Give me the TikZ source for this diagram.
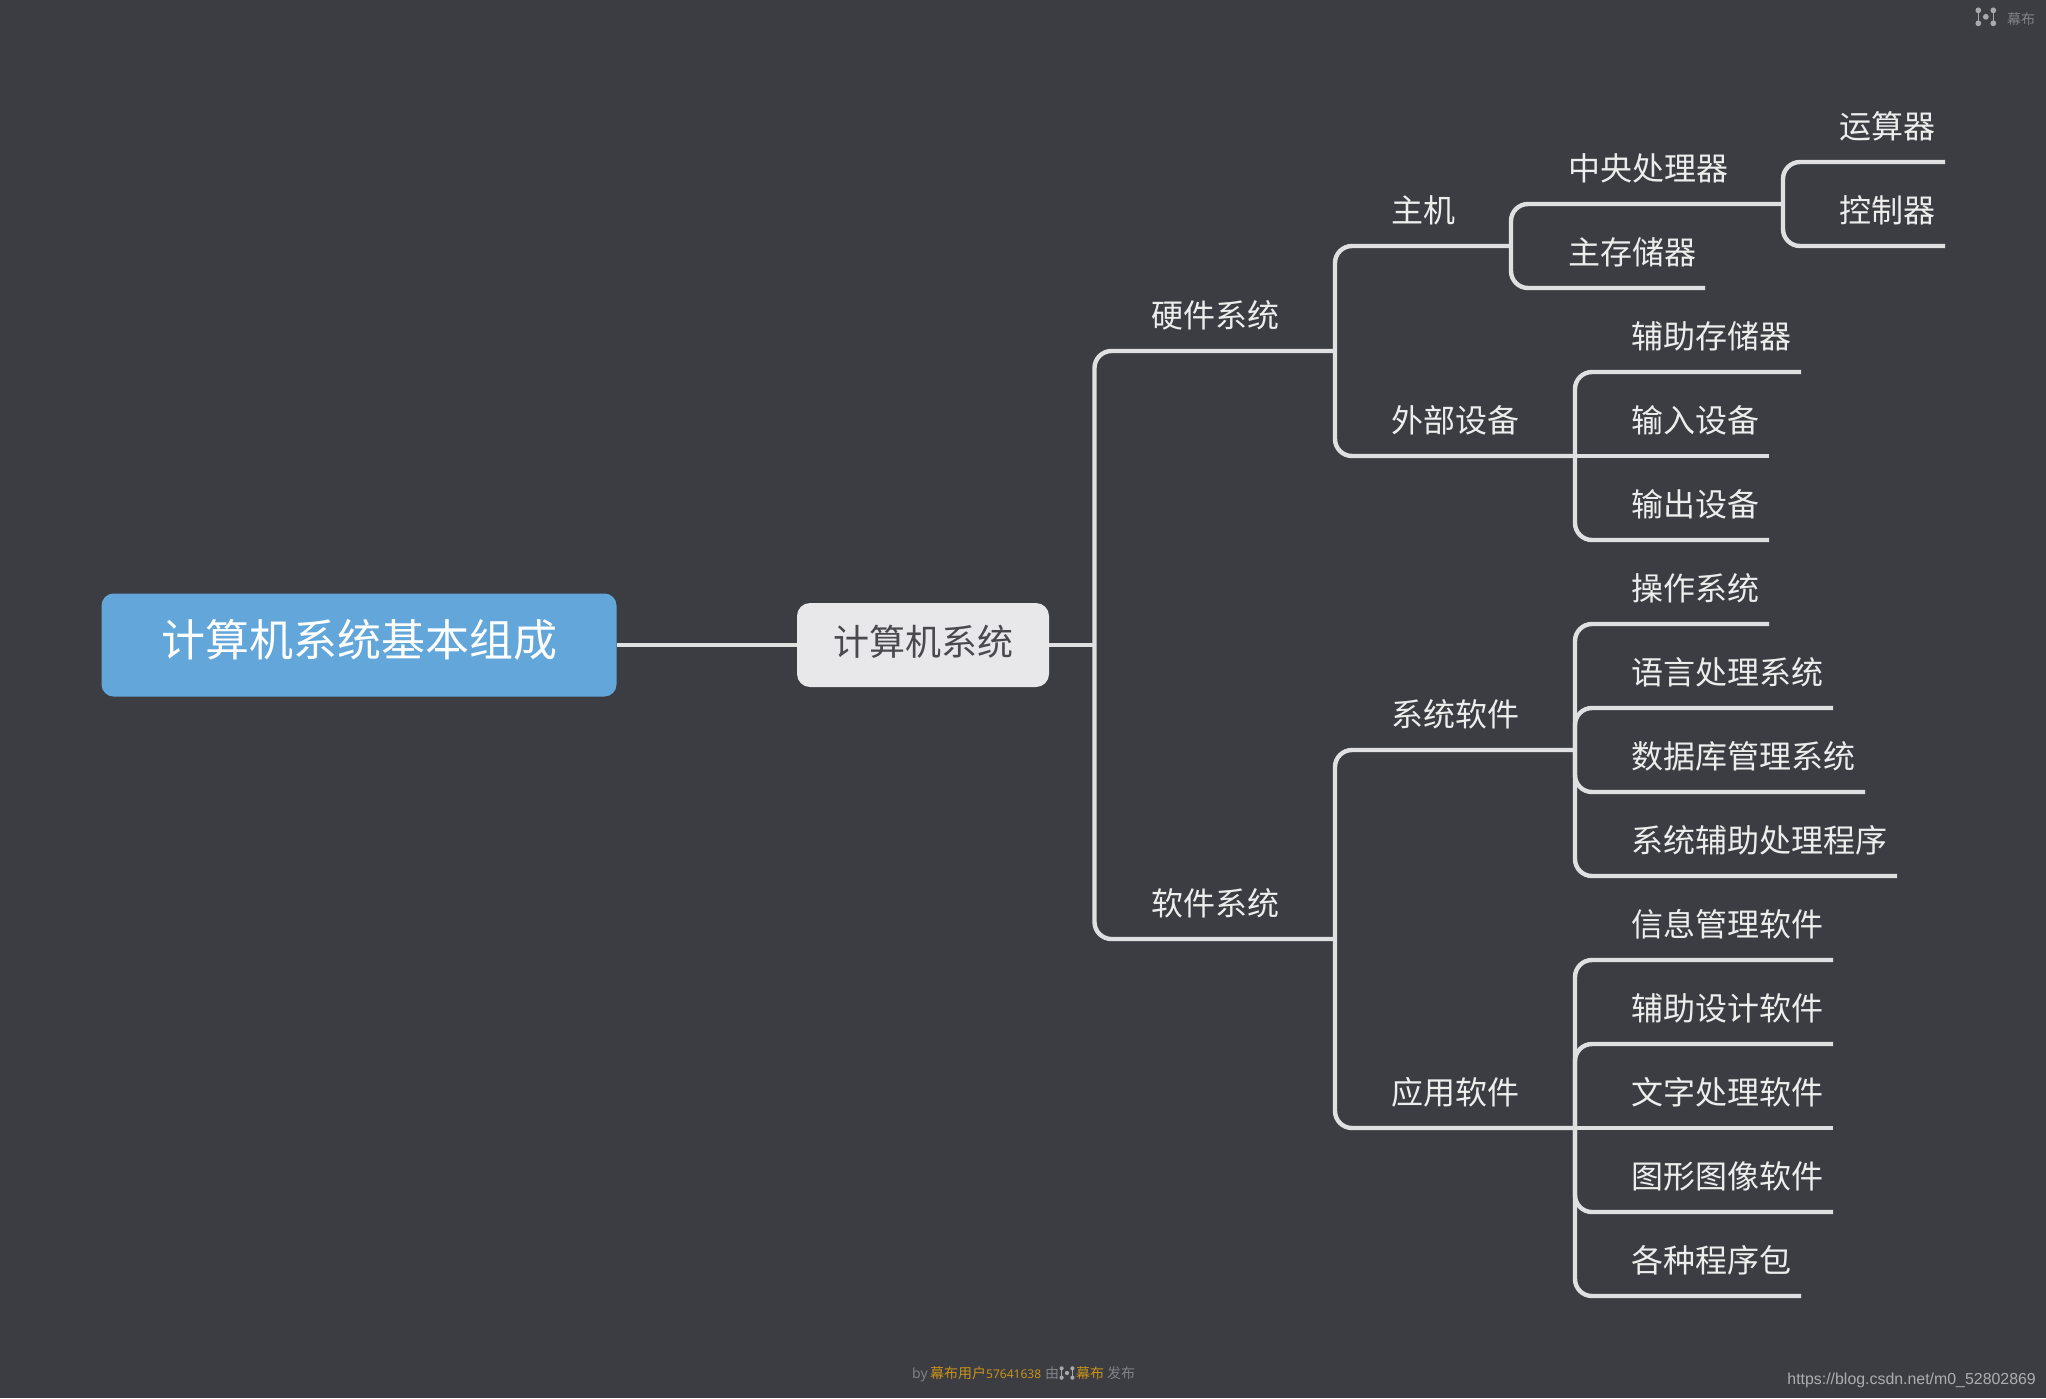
\documentclass[tikz,border=0pt]{standalone}
\usepackage{fontspec}
\setmainfont{Noto Sans CJK SC}
\newfontfamily\urlfont{Liberation Sans}
\newfontfamily\latinfont{Noto Sans}
\definecolor{bgc}{HTML}{3C3D43}
\definecolor{linec}{HTML}{E0E0E2}
\definecolor{rootc}{HTML}{63A6D9}
\definecolor{subc}{HTML}{E8E8EA}
\definecolor{subt}{HTML}{4A4A4E}
\definecolor{labelc}{HTML}{EDEDED}
\definecolor{footg}{HTML}{808286}
\definecolor{footo}{HTML}{C8921A}
\definecolor{logoc}{HTML}{A8A9AB}
\definecolor{urlc}{HTML}{ACADAE}
\newcommand{\fs}[1]{\fontsize{#1}{#1}\selectfont}
\newcommand{\mulogo}[3]{% x, y, scale
  \begin{scope}[shift={(#1,#2)},x=#3pt,y=#3pt]
    \draw[logoc,line width=#3*1.6pt] (-7.5,-6.5) -- (-7.5,6.5) (7.5,-6.5) -- (7.5,6.5);
    \fill[logoc] (-7.5,-6.5) circle (2.9) (-7.5,6.5) circle (2.9) (7.5,-6.5) circle (2.9) (7.5,6.5) circle (2.9) (0,0) circle (2.9);
  \end{scope}}
\tikzset{
  x=1pt,y=-1pt,
  link/.style={draw=linec,line width=4.4pt,rounded corners=17pt},
  leaf/.style={anchor=west,inner sep=0pt,xshift=-1pt,text=labelc,font=\fs{32},text height=28pt,text depth=4pt},
  rootbox/.style={fill=rootc,text=white,rounded corners=12pt,minimum width=515pt,minimum height=103pt,inner sep=0pt,font=\fs{44},text height=39pt,text depth=17pt},
  subbox/.style={fill=subc,text=subt,rounded corners=13pt,minimum width=252pt,minimum height=84pt,inner sep=0pt,font=\fs{36},text height=32pt,text depth=12pt},
  foot/.style={anchor=west,inner sep=0pt,text=footg,font=\fs{14},text height=12pt,text depth=2pt},
  footo/.style={foot,text=footo}
}
\begin{document}
\begin{tikzpicture}
\useasboundingbox (0,0) rectangle (2046,1398);
\fill[bgc] (0,0) rectangle (2046,1398);
% hubs
\coordinate (h0) at (1094.5,645);
\coordinate (h1) at (1335,351);
\coordinate (h2) at (1335,939);
\coordinate (h3) at (1511,246);
\coordinate (h4) at (1575,456);
\coordinate (h5) at (1783,204);
\coordinate (h6) at (1575,750);
\coordinate (h7) at (1575,1128);
% free ends
\coordinate (e1) at (1945,162);
\coordinate (e2) at (1945,246);
\coordinate (e3) at (1705,288);
\coordinate (e4) at (1801,372);
\coordinate (e5) at (1769,456);
\coordinate (e6) at (1769,540);
\coordinate (e7) at (1769,624);
\coordinate (e8) at (1833,708);
\coordinate (e9) at (1865,792);
\coordinate (e10) at (1897,876);
\coordinate (e11) at (1833,960);
\coordinate (e12) at (1833,1044);
\coordinate (e13) at (1833,1128);
\coordinate (e14) at (1833,1212);
\coordinate (e15) at (1801,1296);
% connectors
\foreach \a/\b in {h0/h1,h0/h2,h1/h3,h1/h4,h3/h5,h3/e3,h5/e1,h5/e2,h4/e4,h4/e6,h2/h6,h2/h7,h6/e7,h6/e8,h6/e9,h6/e10,h7/e11,h7/e12,h7/e14,h7/e15}
  \draw[link] (\a) |- (\b);
\draw[link] (h4) -- (e5);
\draw[link] (h7) -- (e13);
% boxes
\node[rootbox] (root) at (359,645) {计算机系统基本组成};
\node[subbox] (sys) at (923,645) {计算机系统};
\draw[link] (root.east) -- (sys.west);
\draw[link] (sys.east) -- (h0);
% labels
\node[leaf] (n1) at (1152,315) {硬件系统};
\node[leaf] (n2) at (1152,903) {软件系统};
\node[leaf] (n3) at (1392,210) {主机};
\node[leaf] (n4) at (1392,420) {外部设备};
\node[leaf] (n5) at (1392,714) {系统软件};
\node[leaf] (n6) at (1392,1092) {应用软件};
\node[leaf] (n7) at (1569,168) {中央处理器};
\node[leaf] (n8) at (1569,252) {主存储器};
\node[leaf] (n9) at (1840,126) {运算器};
\node[leaf] (n10) at (1840,210) {控制器};
\node[leaf] (n11) at (1632,336) {辅助存储器};
\node[leaf] (n12) at (1632,420) {输入设备};
\node[leaf] (n13) at (1632,504) {输出设备};
\node[leaf] (n14) at (1632,588) {操作系统};
\node[leaf] (n15) at (1632,672) {语言处理系统};
\node[leaf] (n16) at (1632,756) {数据库管理系统};
\node[leaf] (n17) at (1632,840) {系统辅助处理程序};
\node[leaf] (n18) at (1632,924) {信息管理软件};
\node[leaf] (n19) at (1632,1008) {辅助设计软件};
\node[leaf] (n20) at (1632,1092) {文字处理软件};
\node[leaf] (n21) at (1632,1176) {图形图像软件};
\node[leaf] (n22) at (1632,1260) {各种程序包};
% top right mark
\mulogo{1985.8}{16.8}{1}
\node[foot] (mark) at (2007,19) {幕布};
% footer
\node[foot] (f1) at (912,1373) {\latinfont by};
\node[footo] (f2) at (930,1373) {幕布用户\latinfont\fs{12}57641638};
\node[foot] (f3) at (1045,1373) {由};
\mulogo{1067}{1373}{0.72}
\node[footo] (f4) at (1076,1373) {幕布};
\node[foot] (f5) at (1107,1373) {发布};
\node[anchor=east,inner sep=0pt,text=urlc,font=\urlfont\fs{15.9}] (url) at (2036,1380) {https://blog.csdn.net/m0\_52802869};
\end{tikzpicture}
\end{document}
